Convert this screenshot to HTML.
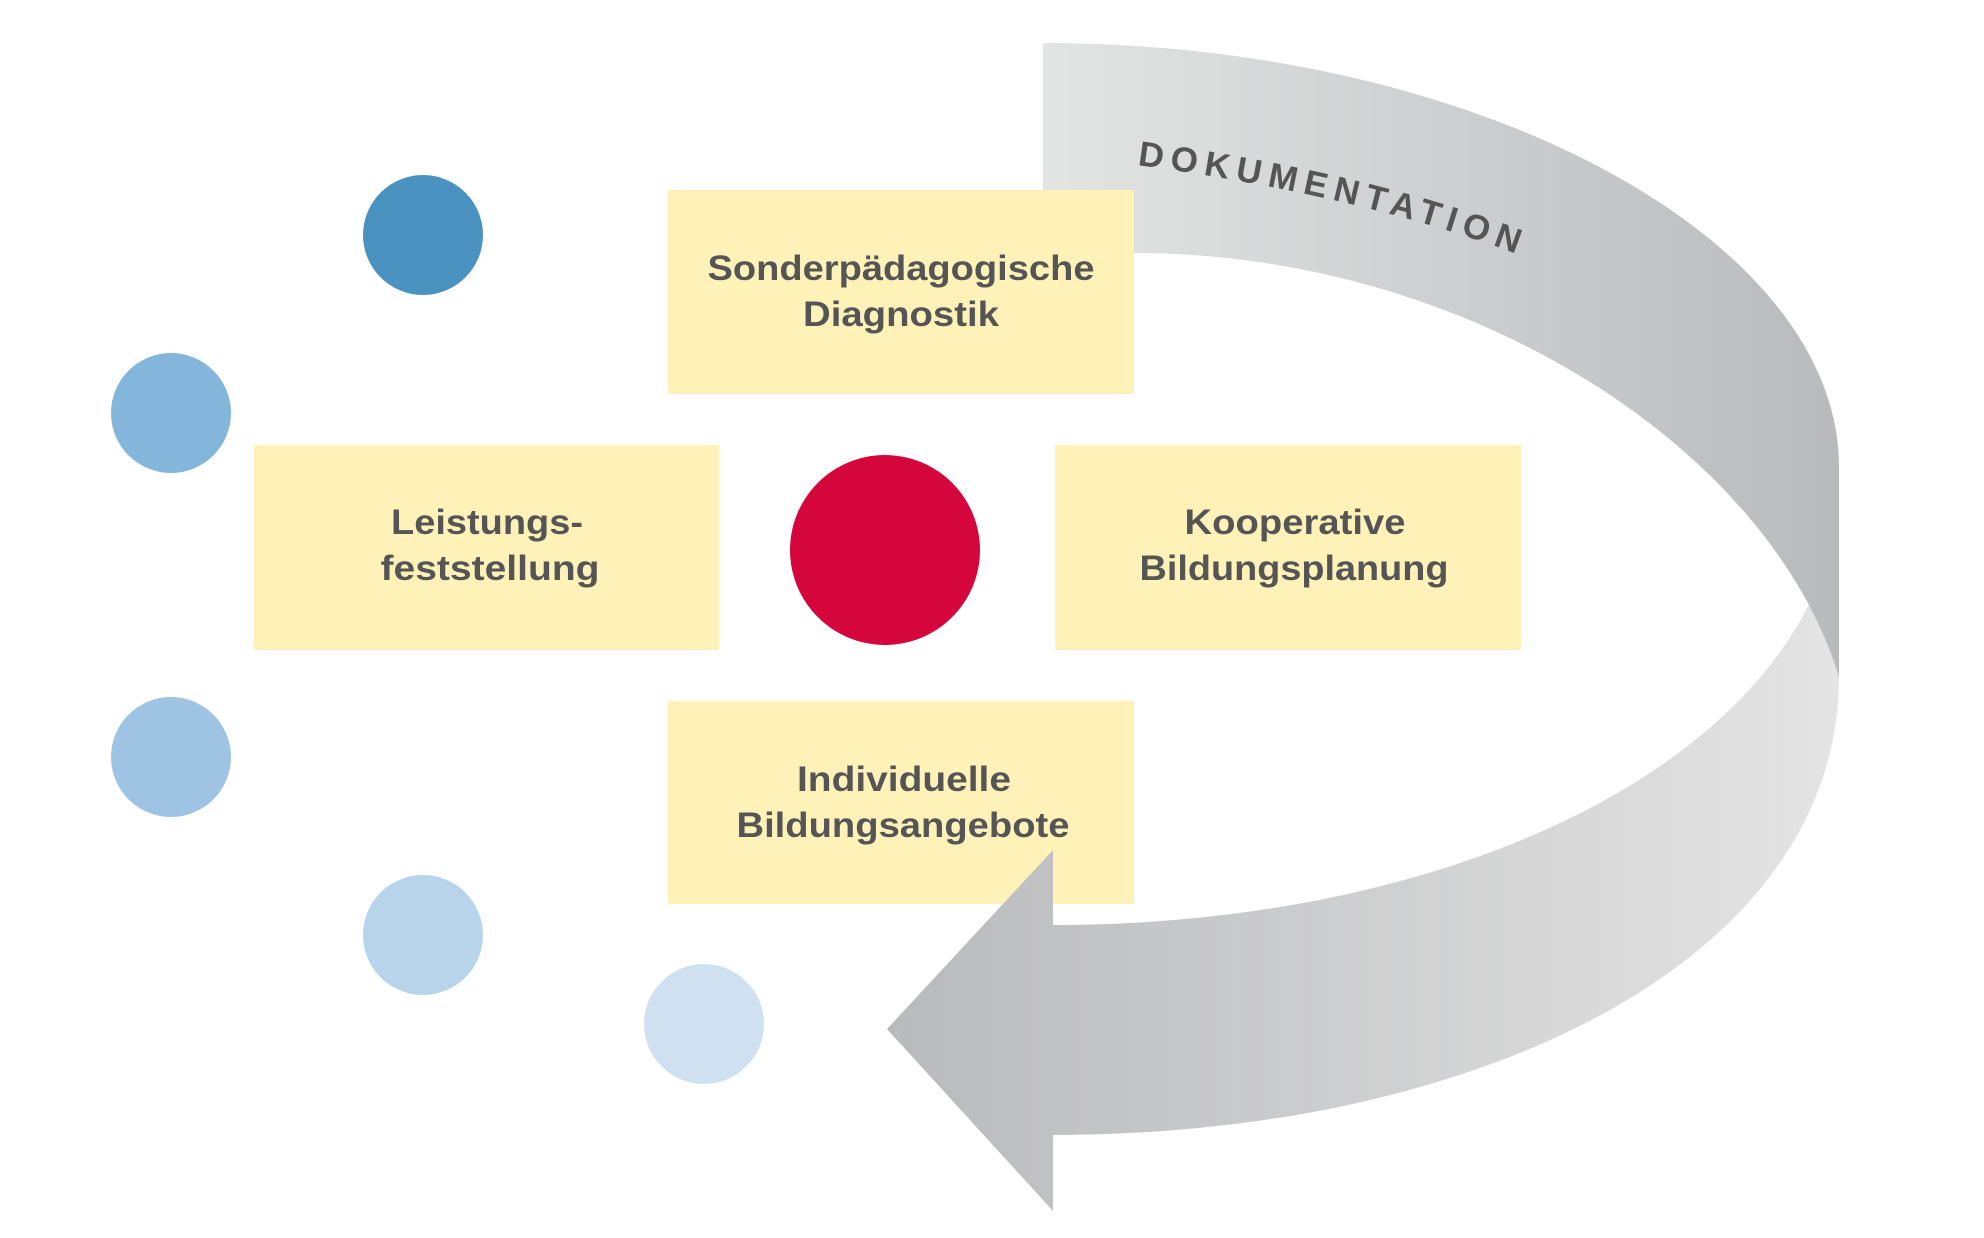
<!DOCTYPE html>
<html><head><meta charset="utf-8"><style>
html,body{margin:0;padding:0;background:#fff;}
svg{display:block;}
text{font-family:"Liberation Sans",sans-serif;font-weight:bold;fill:#555;}
</style></head><body>
<svg width="1984" height="1238" viewBox="0 0 1984 1238" xmlns="http://www.w3.org/2000/svg">
<defs>
<linearGradient id="gu" x1="1043" y1="0" x2="1840" y2="0" gradientUnits="userSpaceOnUse">
<stop offset="0" stop-color="#e3e4e4"/><stop offset="1" stop-color="#b9babc"/></linearGradient>
<linearGradient id="gl" x1="885" y1="0" x2="1840" y2="0" gradientUnits="userSpaceOnUse">
<stop offset="0" stop-color="#b9babc"/><stop offset="1" stop-color="#e4e4e4"/></linearGradient>
<path id="tp" d="M1137,165 Q1380,198 1545,265"/>
</defs>
<!-- boxes -->
<rect x="668" y="190" width="466" height="204" fill="#fff2b9"/>
<rect x="254" y="445" width="465" height="205" fill="#fff2b9"/>
<rect x="1055" y="445" width="466" height="205" fill="#fff2b9"/>
<rect x="668" y="701" width="466" height="203" fill="#fff2b9"/>
<!-- lower band + arrow -->
<path d="M1817,587 Q1832,630 1839,677 C1839,960 1480,1135 1053,1135 L1053,1211 L887,1029 L1053,850 L1053,925 C1420,925 1730,790 1817,587 Z" fill="url(#gl)"/>
<!-- upper band -->
<path d="M1043,43 C1480,43 1839,240 1839,467 L1839,677 C1770,450 1470,253 1134,253 L1043,253 Z" fill="url(#gu)"/>
<rect x="668" y="190" width="466" height="204" fill="#fff2b9"/>
<!-- circles -->
<circle cx="885" cy="550" r="95" fill="#d5063b"/>
<circle cx="423" cy="235" r="60" fill="#4a93c1"/>
<circle cx="171" cy="413" r="60" fill="#84b5da"/>
<circle cx="171" cy="757" r="60" fill="#9fc4e3"/>
<circle cx="423" cy="935" r="60" fill="#b7d4eb"/>
<circle cx="704" cy="1024" r="60" fill="#cfe1f1"/>
<!-- texts -->
<text font-size="35" text-anchor="middle"><tspan x="901" y="280" textLength="387" lengthAdjust="spacingAndGlyphs">Sonderpädagogische</tspan><tspan x="901" y="326" textLength="196" lengthAdjust="spacingAndGlyphs">Diagnostik</tspan></text>
<text font-size="35" text-anchor="middle"><tspan x="487" y="534" textLength="192" lengthAdjust="spacingAndGlyphs">Leistungs-</tspan><tspan x="490" y="580" textLength="219" lengthAdjust="spacingAndGlyphs">feststellung</tspan></text>
<text font-size="35" text-anchor="middle"><tspan x="1295" y="534" textLength="221" lengthAdjust="spacingAndGlyphs">Kooperative</tspan><tspan x="1294" y="580" textLength="309" lengthAdjust="spacingAndGlyphs">Bildungsplanung</tspan></text>
<text font-size="35" text-anchor="middle"><tspan x="904" y="791" textLength="214" lengthAdjust="spacingAndGlyphs">Individuelle</tspan><tspan x="903" y="837" textLength="333" lengthAdjust="spacingAndGlyphs">Bildungsangebote</tspan></text>
<text font-size="35" letter-spacing="7"><textPath href="#tp">DOKUMENTATION</textPath></text>
</svg>
</body></html>
